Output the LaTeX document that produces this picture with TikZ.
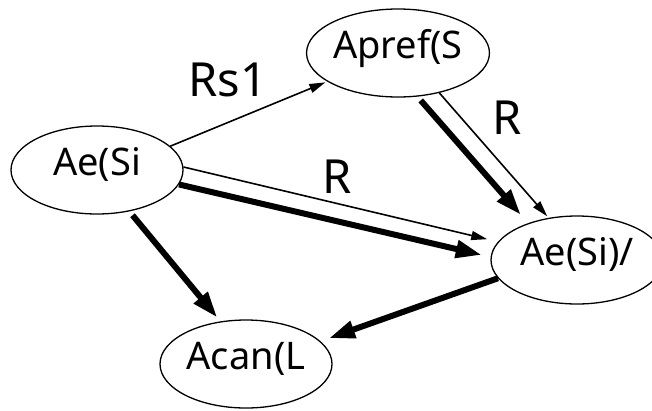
\documentclass[tikz,border=0pt]{standalone}
\usepackage{fontspec}
\setmainfont{Noto Sans}
\usetikzlibrary{arrows.meta,shapes.geometric}

\begin{document}
\begin{tikzpicture}[x=1pt,y=-1pt,
  state/.style={draw,ellipse,line width=1.3pt,inner sep=0pt,minimum width=172pt,minimum height=88pt,text height=20pt,text depth=10pt,font=\fontsize{38}{40}\selectfont},
  lightarr/.style={line width=1.6pt,-{Triangle[length=16pt,width=9pt]}},
  heavyarr/.style={line width=6pt,-{Triangle[length=26pt,width=17pt]}},
  lbl/.style={font=\fontsize{47}{50}\selectfont}]
\useasboundingbox (0,0) rectangle (652,410);
\node[state] (aesi) at (97,170) {Ae(Si};
\node[state] (apref) at (398,53) {Apref(S};
\node[state] (aesio) at (577,260) {Ae(Si)/};
\node[state] (acan) at (246,364) {Acan(L};
\draw[lightarr,shorten >=2pt] (aesi.18) -- (apref.-158);
\draw[lightarr,shorten >=11pt] (aesi.2) -- (aesio.167);
\draw[heavyarr,shorten >=9pt] (aesi.-10) -- (aesio.178);
\draw[heavyarr,shorten <=5pt,shorten >=5pt] (aesi.-52) -- (acan.121);
\draw[heavyarr,shorten <=5pt,shorten >=11pt] (apref.-66) -- (aesio.143);
\draw[lightarr,shorten >=2pt] (apref.-44) -- (aesio.124);
\draw[heavyarr,shorten >=9pt] (aesio.-167) -- (acan.17);
\node[lbl] (rs) at (228,80) {Rs1};
\node[lbl] (ra) at (337,177) {R};
\node[lbl] (rb) at (507,118) {R};
\end{tikzpicture}
\end{document}
